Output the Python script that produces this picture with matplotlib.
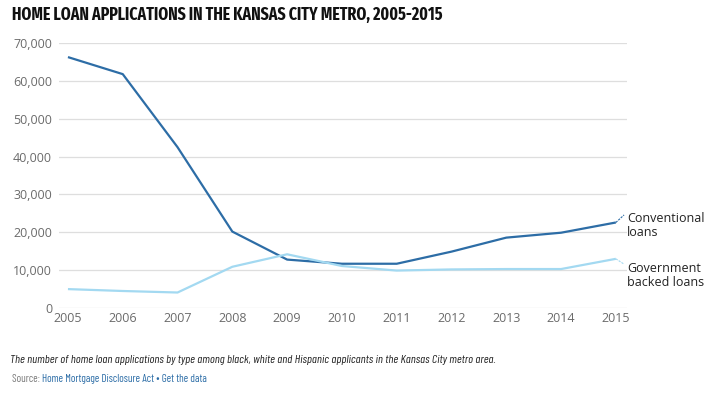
import matplotlib.pyplot as plt
from matplotlib.ticker import FuncFormatter

years = [2005, 2006, 2007, 2008, 2009, 2010, 2011, 2012, 2013, 2014, 2015]
conventional = [66300, 61800, 42500, 20200, 12800, 11700, 11700, 14900, 18600, 19900, 22600]
government = [5000, 4500, 4100, 10900, 14200, 11100, 9900, 10200, 10300, 10300, 13000]
yticks = [0, 10000, 20000, 30000, 40000, 50000, 60000, 70000]

conv_color = '#2d6da6'
gov_color = '#a3d9f1'
grey = '#6b6b6b'
narrow = ['Barlow Condensed', 'DejaVu Sans']

plt.rcParams['font.family'] = ['Open Sans', 'DejaVu Sans']

fig = plt.figure(figsize=(7.28, 3.99), dpi=100)
ax = fig.add_axes([0.081, 0.228, 0.78, 0.664])

ax.plot(years, conventional, color=conv_color, lw=1.6, solid_capstyle='butt')
ax.plot(years, government, color=gov_color, lw=1.6, solid_capstyle='butt')

ax.set_xlim(2004.836, 2015.2)
ax.set_ylim(0, 70000)
ax.set_yticks(yticks)
ax.set_xticks(years)
ax.yaxis.set_major_formatter(FuncFormatter(lambda v, p: f'{int(v):,}'))
ax.grid(axis='y', color='#dedede', lw=0.9)
ax.set_axisbelow(True)
for s in ax.spines.values():
    s.set_visible(False)
ax.tick_params(length=0, labelsize=9, labelcolor=grey)
ax.tick_params(axis='y', pad=5)
ax.tick_params(axis='x', pad=3)

# leader lines and end labels
ax.plot([years[-1], 2015.15], [conventional[-1], 24600], color=conv_color, lw=0.8, ls=(0, (2, 1)))
ax.plot([years[-1], 2015.15], [government[-1], 11600], color=gov_color, lw=0.8, ls=(0, (2, 1)))
fig.text(627 / 728, 1 - 225 / 399, 'Conventional\nloans', fontsize=9, color='#222222',
         va='center', ha='left', linespacing=1.1)
fig.text(627 / 728, 1 - 276 / 399, 'Government\nbacked loans', fontsize=9, color='#222222',
         va='center', ha='left', linespacing=1.1)

fig.text(12 / 728, 1 - 15 / 399, 'HOME LOAN APPLICATIONS IN THE KANSAS CITY METRO, 2005-2015',
         fontsize=12.4, fontweight='bold', family=['Fira Sans Extra Condensed', 'DejaVu Sans'],
         va='center', ha='left', color='#111111')

fig.text(10 / 728, 1 - 360 / 399,
         'The number of home loan applications by type among black, white and Hispanic applicants in the Kansas City metro area.',
         fontsize=8.7, style='italic', family=narrow, va='center', ha='left', color='#222222')

t1 = fig.text(12 / 728, 1 - 379 / 399, 'Source: ', fontsize=7.9, family=narrow, color='#7a7a7a',
              va='center', ha='left')
fig.canvas.draw()
bb = t1.get_window_extent()
fig.text(bb.x1 / fig.bbox.width, 1 - 379 / 399, 'Home Mortgage Disclosure Act \u2022 Get the data',
         fontsize=7.9, family=narrow, color='#2b6ca6', va='center', ha='left')

fig.savefig('out.png', dpi=100)
